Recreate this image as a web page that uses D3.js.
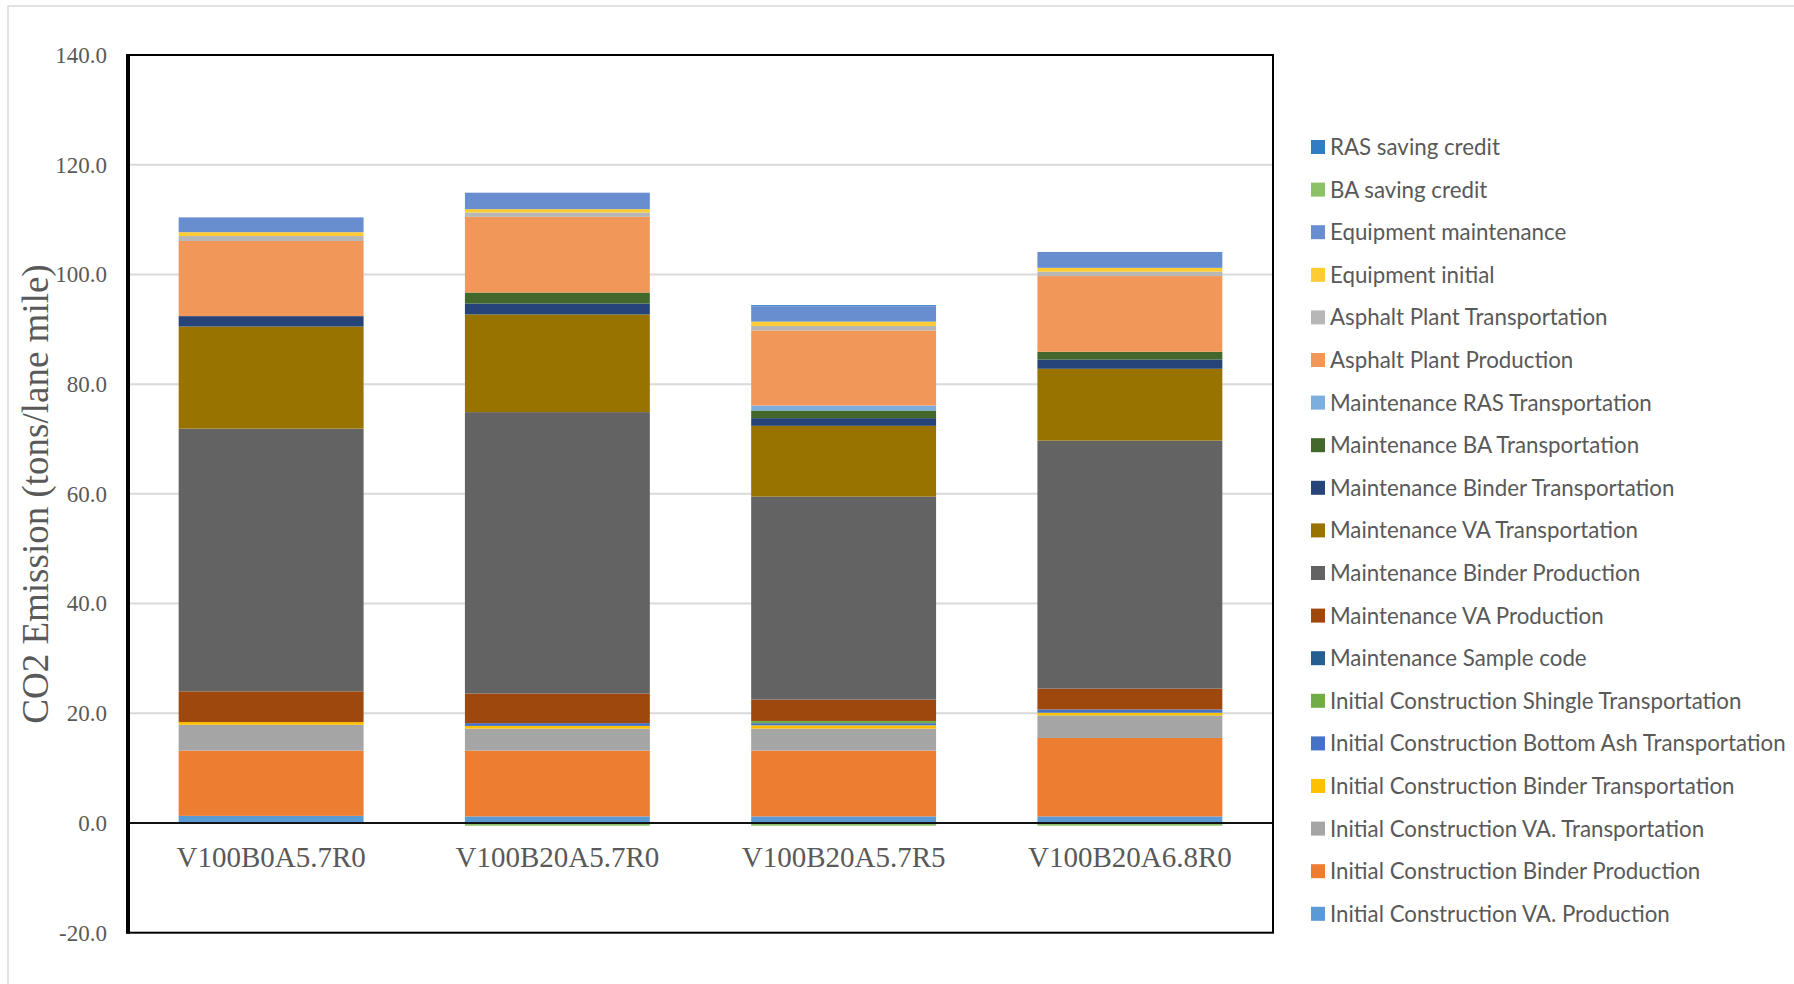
<!DOCTYPE html>
<html>
<head>
<meta charset="utf-8">
<script src="https://cdn.jsdelivr.net/npm/d3@7"></script>
<style>
  html, body { margin: 0; padding: 0; background: #fff; }
  svg { display: block; }
</style>
</head>
<body>
<script>
// Life-cycle CO2 emissions per pavement mix, stacked by source (tons / lane mile)
const categories = ["V100B0A5.7R0", "V100B20A5.7R0", "V100B20A5.7R5", "V100B20A6.8R0"];

// Series in stacking order (bottom to top)
const seriesNames = [
  "Initial Construction VA. Production",
  "Initial Construction Binder Production",
  "Initial Construction VA. Transportation",
  "Initial Construction Binder Transportation",
  "Initial Construction Bottom Ash Transportation",
  "Initial Construction Shingle Transportation",
  "Maintenance Sample code",
  "Maintenance VA Production",
  "Maintenance Binder Production",
  "Maintenance VA Transportation",
  "Maintenance Binder Transportation",
  "Maintenance BA Transportation",
  "Maintenance RAS Transportation",
  "Asphalt Plant Production",
  "Asphalt Plant Transportation",
  "Equipment initial",
  "Equipment maintenance",
  "BA saving credit",
  "RAS saving credit"
];

const icVAProduction        = [1.3, 1.2, 1.2, 1.2];
const icBinderProduction    = [11.9, 12.0, 12.0, 14.3];
const icVATransport         = [4.7, 4.0, 4.0, 4.1];
const icBinderTransport     = [0.5, 0.5, 0.6, 0.5];
const icBottomAshTransport  = [0.0, 0.5, 0.4, 0.6];
const icShingleTransport    = [0.0, 0.0, 0.4, 0.0];
const mSampleCode           = [0.0, 0.0, 0.0, 0.0];
const mVAProduction         = [5.6, 5.4, 3.9, 3.8];
const mBinderProduction     = [47.9, 51.3, 37.0, 45.2];
const mVATransport          = [18.6, 17.8, 12.9, 13.1];
const mBinderTransport      = [1.9, 2.0, 1.4, 1.7];
const mBATransport          = [0.0, 2.0, 1.4, 1.4];
const mRASTransport         = [0.0, 0.0, 0.9, 0.0];
const plantProduction       = [13.7, 13.8, 13.7, 13.8];
const plantTransport        = [0.9, 0.8, 0.8, 0.8];
const equipmentInitial      = [0.7, 0.6, 0.8, 0.7];
const equipmentMaintenance  = [2.7, 3.0, 2.8, 2.9];
const baSavingCredit        = [0.0, -0.5, -0.5, -0.5];
const rasSavingCredit       = [0.0, 0.0, 0.2, 0.0];

const seriesValues = [
  icVAProduction, icBinderProduction, icVATransport, icBinderTransport,
  icBottomAshTransport, icShingleTransport, mSampleCode, mVAProduction,
  mBinderProduction, mVATransport, mBinderTransport, mBATransport,
  mRASTransport, plantProduction, plantTransport, equipmentInitial,
  equipmentMaintenance, baSavingCredit, rasSavingCredit
];

const seriesColors = [
  "#5B9BD5", "#ED7D31", "#A5A5A5", "#FFC000", "#4472C4", "#70AD47",
  "#255E91", "#9E480E", "#636363", "#997300", "#264478", "#43682B",
  "#7CAFDD", "#F1975A", "#B7B7B7", "#FFCD33", "#698ED0", "#8CC168",
  "#327DC2"
];

const yTicks = [-20, 0, 20, 40, 60, 80, 100, 120, 140];
const yTitle = "CO2 Emission (tons/lane mile)";

// Table of rows, one per category
const rows = categories.map((c, i) => {
  const r = { category: c };
  seriesNames.forEach((s, k) => { r[s] = seriesValues[k][i]; });
  return r;
});

const W = 1794, H = 984;
const plot = { left: 128, right: 1273, top: 55, bottom: 932.7 };

const svg = d3.select("body").append("svg")
  .attr("width", W).attr("height", H)
  .style("font-family", "'Liberation Serif', 'Times New Roman', serif");

svg.append("rect").attr("width", W).attr("height", H).attr("fill", "#fff");

// chart area border
svg.append("rect")
  .attr("x", 8).attr("y", 6).attr("width", W + 20).attr("height", H + 20)
  .attr("fill", "none").attr("stroke", "#d9d9d9").attr("stroke-width", 1.5);

const x = d3.scaleBand()
  .domain(categories)
  .range([plot.left, plot.right])
  .paddingInner(0.354)
  .paddingOuter(0.177);

const y = d3.scaleLinear()
  .domain([yTicks[0], yTicks[yTicks.length - 1]])
  .range([plot.bottom, plot.top]);

// horizontal gridlines
svg.append("g").selectAll("line")
  .data(yTicks.filter(v => v > 0))
  .join("line")
  .attr("x1", plot.left).attr("x2", plot.right)
  .attr("y1", d => y(d)).attr("y2", d => y(d))
  .attr("stroke", "#d9d9d9").attr("stroke-width", 2);

// stacked bars (negatives stack downward from zero)
const stacked = d3.stack()
  .keys(seriesNames)
  .offset(d3.stackOffsetDiverging)(rows);

svg.append("g").selectAll("g")
  .data(stacked)
  .join("g")
  .attr("fill", (d, i) => seriesColors[i])
  .selectAll("rect")
  .data(d => d.filter(p => p[1] !== p[0]))
  .join("rect")
  .attr("x", d => x(d.data.category))
  .attr("width", x.bandwidth())
  .attr("y", d => y(Math.max(d[0], d[1])))
  .attr("height", d => Math.abs(y(d[0]) - y(d[1])));

// zero line
svg.append("line")
  .attr("x1", plot.left).attr("x2", plot.right)
  .attr("y1", y(0)).attr("y2", y(0))
  .attr("stroke", "#111").attr("stroke-width", 1.8);

// plot frame
svg.append("rect")
  .attr("x", plot.left).attr("y", plot.top)
  .attr("width", plot.right - plot.left).attr("height", plot.bottom - plot.top)
  .attr("fill", "none").attr("stroke", "#000").attr("stroke-width", 2);
svg.append("line")
  .attr("x1", plot.left).attr("x2", plot.left)
  .attr("y1", plot.top - 1).attr("y2", plot.bottom + 1)
  .attr("stroke", "#000").attr("stroke-width", 4);

// y axis labels (plain hyphen for negatives)
const yAxis = svg.append("g")
  .attr("transform", `translate(${plot.left},0)`)
  .call(d3.axisLeft(y).tickValues(yTicks).tickFormat(d => d.toFixed(1)).tickSize(0).tickPadding(21));
yAxis.select(".domain").remove();
yAxis.selectAll("text")
  .attr("fill", "#595959")
  .style("font-family", "'Liberation Serif', 'Times New Roman', serif")
  .style("font-size", "23px");

// category labels
const xAxis = svg.append("g")
  .attr("transform", `translate(0,${y(0)})`)
  .call(d3.axisBottom(x).tickSize(0));
xAxis.select(".domain").remove();
xAxis.selectAll("text")
  .attr("dy", null)
  .attr("y", 867 - y(0))
  .attr("fill", "#595959")
  .style("font-family", "'Liberation Serif', 'Times New Roman', serif")
  .style("font-size", "29px");

// y axis title
svg.append("text")
  .attr("transform", "translate(48,494) rotate(-90)")
  .attr("text-anchor", "middle")
  .attr("fill", "#595959")
  .style("font-size", "37px")
  .text(yTitle);

// legend: last series listed first
const legendOrder = seriesNames.map((s, i) => ({ name: s, color: seriesColors[i] })).reverse();
const legendTop = 147, legendStep = 42.6;
const legend = svg.append("g")
  .style("font-family", "Lato, 'Open Sans', sans-serif");

const items = legend.selectAll("g")
  .data(legendOrder)
  .join("g")
  .attr("transform", (d, i) => `translate(1311,${legendTop + i * legendStep})`);

items.append("rect")
  .attr("x", 0).attr("y", -7).attr("width", 14).attr("height", 14)
  .attr("fill", d => d.color);

const labels = items.append("text")
  .attr("x", 19).attr("dy", "0.36em")
  .attr("fill", "#595959")
  .style("font-size", "20px")
  .text(d => d.name);

// size the legend font so the longest entry spans the legend column
const longest = d3.max(labels.nodes(), n => n.getComputedTextLength());
const legendFont = 20 * 456 / longest;
labels.style("font-size", legendFont.toFixed(2) + "px");
</script>
</body>
</html>
